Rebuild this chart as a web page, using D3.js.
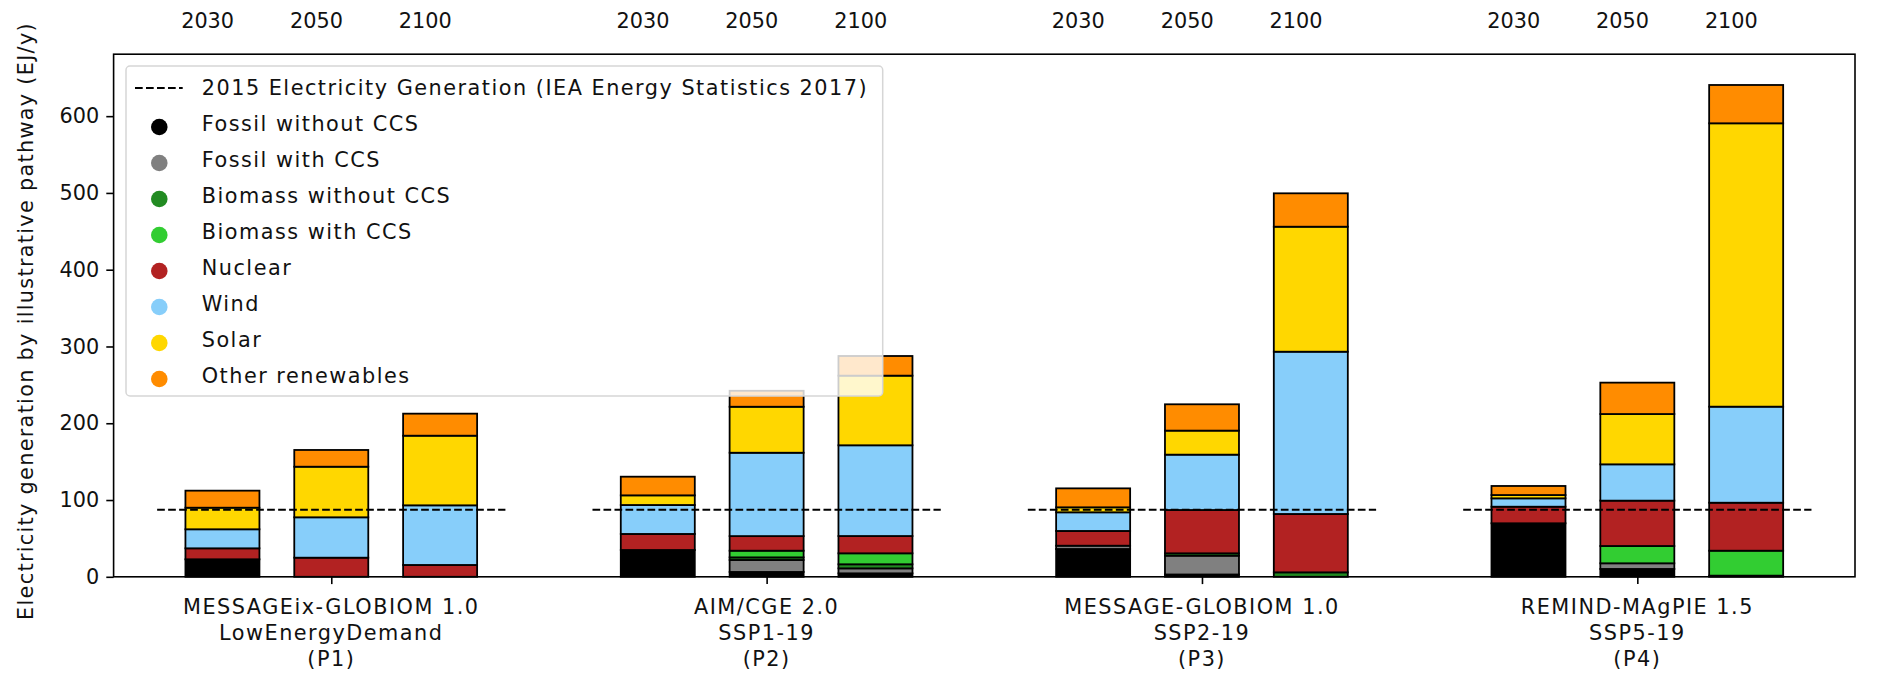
<!DOCTYPE html>
<html>
<head>
<meta charset="utf-8">
<script src="https://cdn.jsdelivr.net/npm/d3@7"></script>
<style>
  html, body { margin: 0; padding: 0; background: #fff; }
  svg { display: block; font-family: "DejaVu Sans", sans-serif; }
</style>
</head>
<body>
<svg id="chart" width="1890" height="675"></svg>
<script>
// Illustrative pathways (groups) and the years shown for each
const pathways = [
  ["MESSAGEix-GLOBIOM 1.0", "LowEnergyDemand", "(P1)"],
  ["AIM/CGE 2.0", "SSP1-19", "(P2)"],
  ["MESSAGE-GLOBIOM 1.0", "SSP2-19", "(P3)"],
  ["REMIND-MAgPIE 1.5", "SSP5-19", "(P4)"]
];
const years = ["2030", "2050", "2100"];

// Electricity generation by source (EJ/y), ordered P1 2030, 2050, 2100, P2 2030, ...
const fossilNoCCS  = [22.8, 0, 0,     34.9, 6.3, 4.5,     36.2, 3.0, 0,      69.7, 10.2, 1.5];
const fossilCCS    = [0, 0, 0,        0, 15.6, 6.5,       4.3, 24.5, 0,      0, 7.4, 0];
const biomassNoCCS = [0, 0, 0,        0, 3.4, 5.3,        0, 3.1, 5.8,       0, 0, 0];
const biomassCCS   = [0, 0, 0,        0, 8.7, 14.3,       0, 0, 0,           0, 22.5, 32.5];
const nuclear      = [14.3, 24.9, 15.4, 20.9, 19.0, 22.5, 19.2, 56.4, 76.0,  21.6, 59.1, 62.5];
const wind         = [24.8, 52.6, 77.7, 37.7, 108.6, 118.2, 24.3, 72.1, 211.4, 10.9, 47.3, 125.1];
const solar        = [28.1, 65.9, 90.7, 12.6, 59.9, 90.7,  6.5, 31.3, 162.8, 4.3, 65.5, 369.1];
const otherRenew   = [22.2, 21.8, 28.7, 24.3, 20.8, 25.6,  24.7, 34.3, 43.5,  11.8, 40.9, 49.9];

const seriesNames = ["Fossil without CCS", "Fossil with CCS", "Biomass without CCS", "Biomass with CCS",
                     "Nuclear", "Wind", "Solar", "Other renewables"];
const seriesColors = ["#000000", "#808080", "#228B22", "#32CD32", "#B22222", "#87CEFA", "#FFD700", "#FF8C00"];
const seriesValues = [fossilNoCCS, fossilCCS, biomassNoCCS, biomassCCS, nuclear, wind, solar, otherRenew];

// 2015 reference level
const reference2015 = 87.3;
const referenceLabel = "2015 Electricity Generation (IEA Energy Statistics 2017)";
const yTicks = [0, 100, 200, 300, 400, 500, 600];
const yLabel = "Electricity generation by illustrative pathway (EJ/y)";

// ---- layout ----
const plot = { left: 113.6, right: 1855, top: 54.2, bottom: 576.8 };
const FS = 20.8;
const LS = "1.5px";   // extra tracking for word labels
const barOffsets = [-0.25, 0, 0.25];
const barWidth = 0.17;

const svg = d3.select("#chart");

const x = d3.scaleLinear().domain([-0.5, pathways.length - 0.5]).range([plot.left, plot.right]);
const y = d3.scaleLinear().domain([0, 680.7]).range([plot.bottom, plot.top]);

// Build stacked rows: one row per bar
const rows = [];
pathways.forEach((p, gi) => {
  years.forEach((yr, yi) => {
    const idx = gi * years.length + yi;
    const row = { pos: gi + barOffsets[yi] };
    seriesNames.forEach((s, si) => { row[s] = seriesValues[si][idx]; });
    rows.push(row);
  });
});
const stacked = d3.stack().keys(seriesNames)(rows);

const bars = svg.append("g");
stacked.forEach((layer, si) => {
  bars.selectAll(null)
    .data(layer.filter(d => d[1] - d[0] > 0))
    .enter().append("rect")
    .attr("x", d => x(d.data.pos - barWidth / 2))
    .attr("width", x(barWidth) - x(0))
    .attr("y", d => y(d[1]))
    .attr("height", d => y(d[0]) - y(d[1]))
    .attr("fill", seriesColors[si])
    .attr("stroke", "#000")
    .attr("stroke-width", 1.8);
});

// 2015 reference line over each group
svg.append("g").selectAll("line")
  .data(pathways.map((p, i) => i))
  .enter().append("line")
  .attr("x1", i => x(i - 0.4))
  .attr("x2", i => x(i + 0.4))
  .attr("y1", y(reference2015))
  .attr("y2", y(reference2015))
  .attr("stroke", "#000")
  .attr("stroke-width", 2)
  .attr("stroke-dasharray", "7.7,3.3");

// Frame
svg.append("rect")
  .attr("x", plot.left).attr("y", plot.top)
  .attr("width", plot.right - plot.left).attr("height", plot.bottom - plot.top)
  .attr("fill", "none").attr("stroke", "#000").attr("stroke-width", 1.6);

// Y axis
const yAxis = d3.axisLeft(y).tickValues(yTicks).tickSize(7.3).tickPadding(7);
const yg = svg.append("g").attr("transform", `translate(${plot.left},0)`).call(yAxis);
yg.select(".domain").remove();
yg.selectAll(".tick line").attr("stroke", "#000").attr("stroke-width", 1.6);
yg.selectAll(".tick text").attr("font-size", FS).attr("font-family", "DejaVu Sans").attr("fill", "#111");

// X axis (group ticks)
const xAxis = d3.axisBottom(x).tickValues(pathways.map((p, i) => i)).tickSize(7.3).tickFormat("");
const xg = svg.append("g").attr("transform", `translate(0,${plot.bottom})`).call(xAxis);
xg.select(".domain").remove();
xg.selectAll(".tick line").attr("stroke", "#000").attr("stroke-width", 1.6);

// Multi-line group labels
const catLabels = svg.append("g").selectAll("text")
  .data(pathways)
  .enter().append("text")
  .attr("text-anchor", "middle")
  .attr("font-size", FS)
  .attr("letter-spacing", LS)
  .attr("fill", "#111")
  .attr("transform", (d, i) => `translate(${x(i)},${613.5})`);
catLabels.each(function(lines) {
  const t = d3.select(this);
  lines.forEach((ln, li) => {
    t.append("tspan").attr("x", 0).attr("dy", li === 0 ? 0 : 26.3).text(ln);
  });
});

// Year labels above each bar
const yearG = svg.append("g");
pathways.forEach((p, gi) => {
  years.forEach((yr, yi) => {
    yearG.append("text")
      .attr("x", x(gi + barOffsets[yi] - 0.034))
      .attr("y", 27.5)
      .attr("text-anchor", "middle")
      .attr("font-size", FS)
      .attr("fill", "#111")
      .text(yr);
  });
});

// Y axis title
svg.append("text")
  .attr("transform", `translate(33,321) rotate(-90)`)
  .attr("text-anchor", "middle")
  .attr("font-size", FS)
  .attr("letter-spacing", "1.3px")
  .attr("fill", "#111")
  .text(yLabel);

// Legend
const lg = svg.append("g");
lg.append("rect")
  .attr("x", 126).attr("y", 66)
  .attr("width", 882.7 - 126).attr("height", 396 - 66)
  .attr("rx", 4).attr("ry", 4)
  .attr("fill", "rgba(255,255,255,0.8)")
  .attr("stroke", "#d6d6d6").attr("stroke-width", 1.5);

const rowY0 = 88, rowStep = 36;
lg.append("line")
  .attr("x1", 135).attr("x2", 182.7)
  .attr("y1", rowY0).attr("y2", rowY0)
  .attr("stroke", "#000").attr("stroke-width", 2)
  .attr("stroke-dasharray", "7.7,3.3");
lg.append("text")
  .attr("x", 201.7).attr("y", rowY0).attr("dy", "0.35em")
  .attr("font-size", FS).attr("letter-spacing", LS).attr("fill", "#111")
  .text(referenceLabel);

seriesNames.forEach((s, i) => {
  const cy = rowY0 + rowStep * (i + 1);
  lg.append("circle")
    .attr("cx", 159.3).attr("cy", cy + 3)
    .attr("r", 8.3)
    .attr("fill", seriesColors[i]);
  lg.append("text")
    .attr("x", 201.7).attr("y", cy).attr("dy", "0.35em")
    .attr("font-size", FS).attr("letter-spacing", LS).attr("fill", "#111")
    .text(s);
});
</script>
</body>
</html>
